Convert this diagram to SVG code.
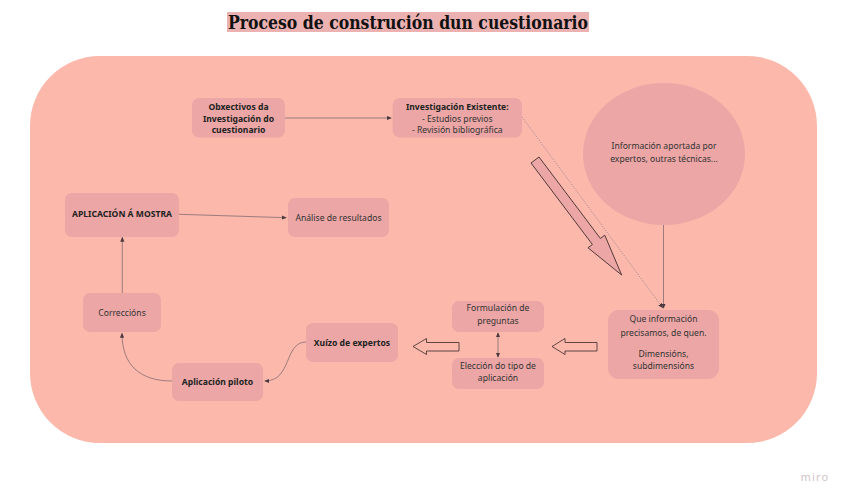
<svg xmlns="http://www.w3.org/2000/svg" width="848" height="501" viewBox="0 0 848 501">
<defs>
<style>
.node{fill:#eba6a5}
.t{font-family:"Noto Sans","Open Sans",sans-serif;font-size:8.6px;fill:#333;text-anchor:middle}
.b{font-weight:bold;fill:#222}
.ln{fill:none;stroke:#7d6870;stroke-width:0.75}
.dot{fill:none;stroke:#8a7a88;stroke-width:0.7;stroke-dasharray:1.2 1.4}
.ha{fill:#fbb8ab;stroke:#3a2a2a;stroke-width:0.8;stroke-linejoin:miter}
</style>
<marker id="ah" viewBox="0 0 6 6" refX="5" refY="3" markerWidth="5" markerHeight="5" orient="auto-start-reverse" markerUnits="userSpaceOnUse">
<path d="M0,0.5 L6,3 L0,5.5 Z" fill="#4a3a40"/>
</marker>
</defs>
<rect width="848" height="501" fill="#ffffff"/>
<rect x="227" y="12" width="362" height="20" fill="#ecb1b1"/>
<text x="408" y="28.5" font-family="'DejaVu Serif','Liberation Serif',serif" font-weight="bold" font-size="18.5" fill="#111" text-anchor="middle" textLength="360" lengthAdjust="spacingAndGlyphs">Proceso de construción dun cuestionario</text>
<rect id="frame" x="30" y="56" width="787" height="387" rx="70" ry="70" fill="#fbb8ab"/>

<g id="connectors">
<line class="ln" x1="285" y1="118" x2="391" y2="118" marker-end="url(#ah)"/>
<line class="dot" x1="522" y1="117" x2="662.5" y2="307.5" marker-end="url(#ah)"/>
<line class="ln" x1="663.5" y1="225" x2="663.5" y2="308" marker-end="url(#ah)"/>
<line class="ln" x1="498" y1="333" x2="498" y2="357" marker-start="url(#ah)" marker-end="url(#ah)"/>
<path class="ln" d="M306,342 C284,342 292,381 265,381" marker-end="url(#ah)"/>
<path class="ln" d="M172,381 C140,381 122,365 122,333.5" marker-end="url(#ah)"/>
<line class="ln" x1="122.3" y1="293" x2="122.3" y2="237.5" marker-end="url(#ah)"/>
<line class="ln" x1="179" y1="214.3" x2="286" y2="217.7" marker-end="url(#ah)"/>
<polygon class="ha" style="fill:#eba6a5" transform="translate(535,160) rotate(53)" points="0,-5 102,-5 102,-10.5 144,0 102,10.5 102,5 0,5"/>
<polygon class="ha" points="552,346.5 565,338.5 565,342.5 597,342.5 597,351 565,351 565,354.5"/>
<polygon class="ha" points="413,346.5 426.5,338.5 426.5,342.5 459,342.5 459,351 426.5,351 426.5,354.5"/>
</g>

<g id="obxectivos">
<rect class="node" x="192" y="98" width="93" height="39.5" rx="7"/>
<text class="t b" x="238.5" y="110">Obxectivos da</text>
<text class="t b" x="238.5" y="121.5">Investigación do</text>
<text class="t b" x="238.5" y="133">cuestionario</text>
</g>
<g id="investigacion">
<rect class="node" x="392.7" y="98" width="129.3" height="39.5" rx="7"/>
<text class="t b" x="457.3" y="110">Investigación Existente:</text>
<text class="t" x="457.3" y="121.5">- Estudios previos</text>
<text class="t" x="457.3" y="133">- Revisión bibliográfica</text>
</g>
<g id="informacion">
<ellipse class="node" cx="664" cy="154" rx="81" ry="71"/>
<text class="t" x="664" y="148.5">Información aportada por</text>
<text class="t" x="664" y="162">expertos, outras técnicas...</text>
</g>
<g id="que">
<rect class="node" x="608" y="310" width="111" height="69" rx="11"/>
<text class="t" x="663.5" y="322.3">Que información</text>
<text class="t" x="663.5" y="335.7">precisamos, de quen.</text>
<text class="t" x="663.5" y="357">Dimensións,</text>
<text class="t" x="663.5" y="369">subdimensións</text>
</g>
<g id="formulacion">
<rect class="node" x="452" y="301" width="92" height="31" rx="7"/>
<text class="t" x="498" y="311.3">Formulación de</text>
<text class="t" x="498" y="323.7">preguntas</text>
</g>
<g id="eleccion">
<rect class="node" x="452" y="358" width="92" height="31" rx="7"/>
<text class="t" x="498" y="368.7">Elección do tipo de</text>
<text class="t" x="498" y="381.3">aplicación</text>
</g>
<g id="xuizo">
<rect class="node" x="306" y="323" width="92" height="39" rx="7"/>
<text class="t b" x="352" y="346.3">Xuízo de expertos</text>
</g>
<g id="piloto">
<rect class="node" x="172" y="363" width="91" height="38" rx="7"/>
<text class="t b" x="217.5" y="384.7">Aplicación piloto</text>
</g>
<g id="correccions">
<rect class="node" x="83" y="293" width="78" height="39" rx="7"/>
<text class="t" x="122" y="316.3">Correccións</text>
</g>
<g id="aplicacion">
<rect class="node" x="65" y="193" width="114" height="44" rx="7"/>
<text class="t b" x="122" y="217">APLICACIÓN Á MOSTRA</text>
</g>
<g id="analise">
<rect class="node" x="288" y="198" width="101" height="39" rx="7"/>
<text class="t" x="338.5" y="220.7">Análise de resultados</text>
</g>
<text x="815" y="481" font-family="'Noto Sans','Open Sans',sans-serif" font-size="11" fill="#cfc4c6" text-anchor="middle" letter-spacing="1.2">miro</text>
</svg>
